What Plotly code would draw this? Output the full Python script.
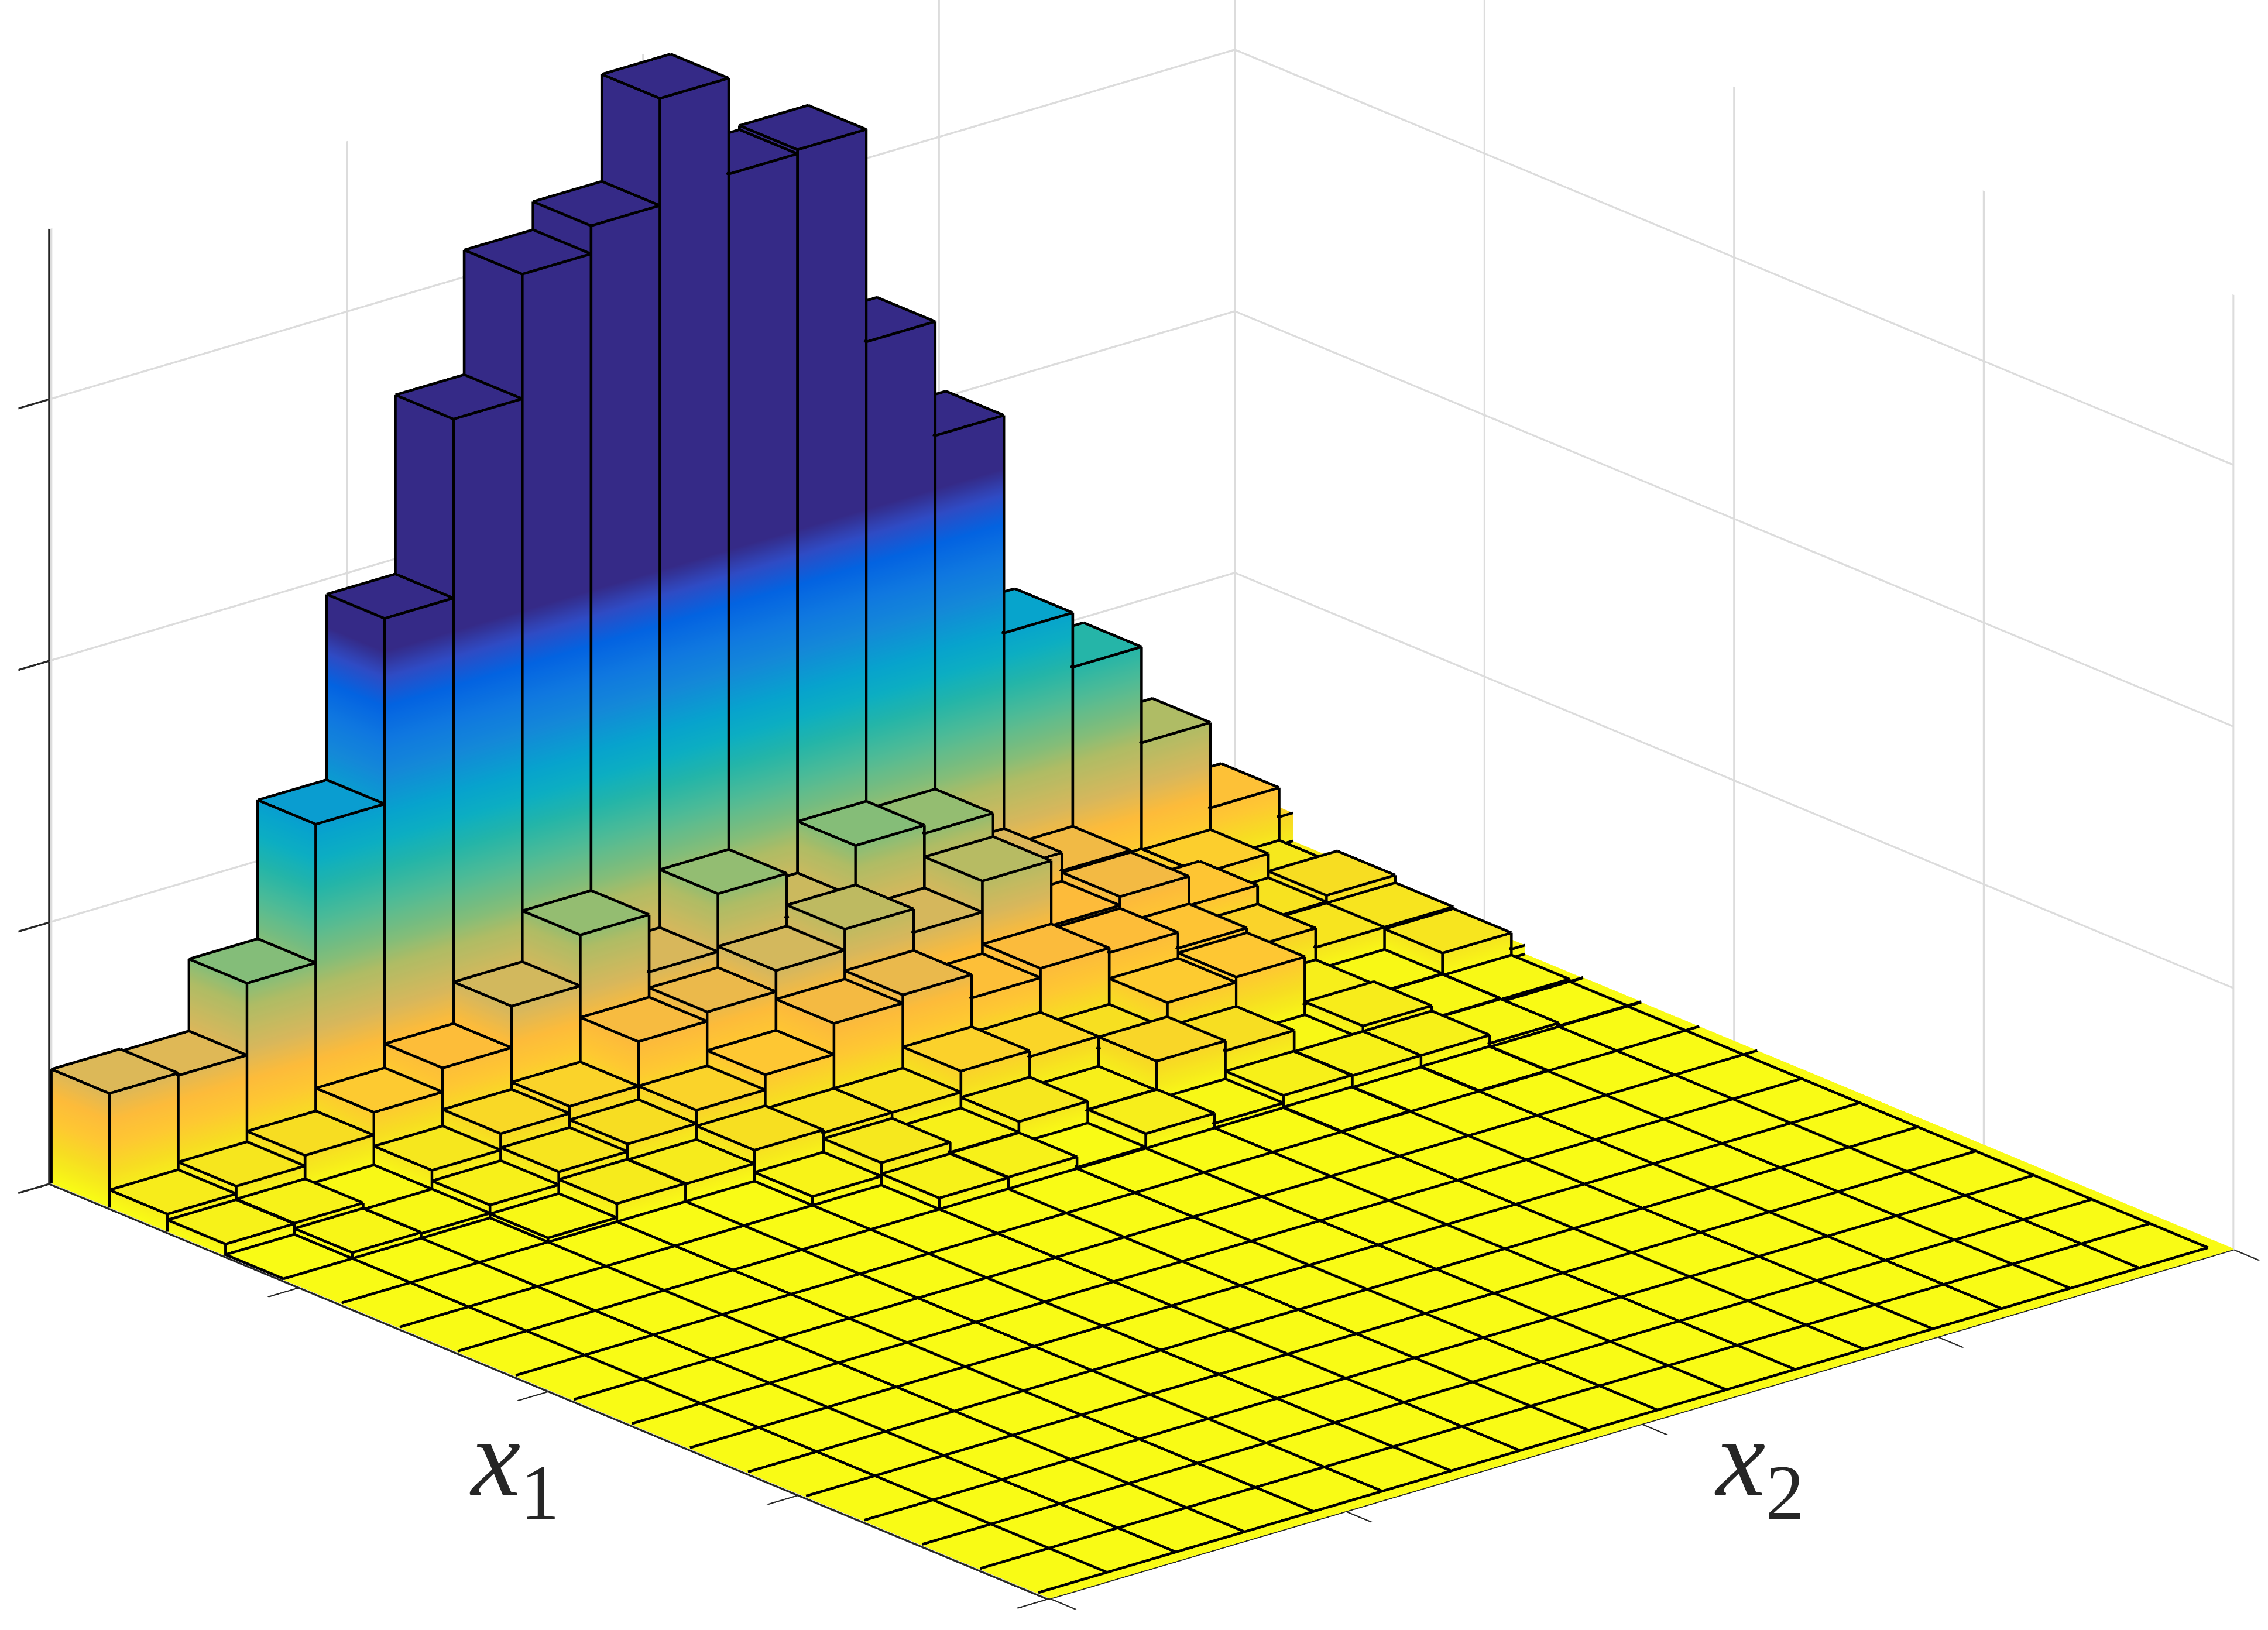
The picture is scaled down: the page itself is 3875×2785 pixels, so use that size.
import math
import plotly.graph_objects as go

# Bin heights (one list per x1 row, 18 x2 bins, last bins are clipped by the axes)
row_00 = [195,191,314,551,868,1174,1387,1435,1618,1454,1461,1098,903,531,438,274,128,78]
row_01 = [30,43,61,100,141,212,299,201,300,225,313,299,197,166,93,91,38,30]
row_02 = [20,21,10,42,70,82,158,174,210,246,206,259,148,163,113,50,61,30]
row_03 = [2,12,10,24,46,59,82,108,161,175,135,151,143,116,81,48,48,20]
row_04 = [0,1,2,9,33,32,55,50,50,86,76,55,99,108,27,10,45,17]
row_05 = [0,0,0,0,0,2,17,40,23,41,25,75,58,9,31,9,7,2]
row_06 = [0,0,0,0,0,1,1,21,22,4,27,10,23,22,22,8,3,3]
row_07 = [0,0,0,1,0,1,1,1,0,0,2,2,3,2,3,2,1,2]
row_08 = [0,0,0,0,0,0,0,0,0,0,0,0,1,0,0,0,2,2]
row_09 = [0,0,0,0,0,0,0,0,0,0,0,0,2,0,0,0,0,0]
row_10 = [0,0,0,0,0,0,0,0,0,0,0,0,0,0,0,1,0,0]
row_zero = [0]*18
heights = [row_00,row_01,row_02,row_03,row_04,row_05,row_06,row_07,row_08,row_09,row_10]+[row_zero]*7

x_edges = list(range(18))+[17.2]
y_edges = list(range(18))+[17.2]
x_ticks = [0,4.3,8.6,12.9,17.2]
y_ticks = [0,4.3,8.6,12.9,17.2]
z_ticks = [0,447,894,1341]
z_top = 1632
floor = 2

stop_h = [0,30,60,100,143,195,274,314,380,438,490,531,600,660,720,770,810,1618]
stop_c = ['#f9fb15','#f6ea1c','#f7dd22','#fec832','#fdbb3a','#d9b75b','#aebc65','#85bd78','#4fbb96','#24b5a8',
          '#0caec2','#07a3cd','#1488d8','#0f77e0','#0363e1','#2f4bc4','#352a87','#352a87']
colorscale = [[h/stop_h[-1],c] for h,c in zip(stop_h,stop_c)]

A = math.radians(40.1); E = math.radians(20.5)
ux,uy,uz = math.cos(A)*math.cos(E),-math.sin(A)*math.cos(E),math.sin(E)
# edges are nudged a few pixels toward the camera so the faces do not hide them
bias = 8.0
dx,dy,dz = bias*ux/154,bias*uy/154,bias*uz/1.0667

vx,vy,vz,fi,fj,fk = [],[],[],[],[],[]
lx,ly,lz = [],[],[]
def quad(a,b,c,d):
    fi.extend([a,a]);fj.extend([b,c]);fk.extend([c,d])
def seg(p,q):
    lx.extend([p[0]+dx,q[0]+dx,None]);ly.extend([p[1]+dy,q[1]+dy,None]);lz.extend([p[2]+dz,q[2]+dz,None])

n = 18
for i in range(n):
    for j in range(n):
        raw = heights[i][j]
        h = max(raw,floor)
        x0,x1,y0,y1 = x_edges[i],x_edges[i+1],y_edges[j],y_edges[j+1]
        s = len(vx)
        for z in (0,h):
            for (x,y) in ((x0,y0),(x1,y0),(x1,y1),(x0,y1)):
                vx.append(x);vy.append(y);vz.append(z)
        quad(s+4,s+5,s+6,s+7)
        for k in range(4):
            m=(k+1)%4
            quad(s+k,s+m,s+4+m,s+4+k)
        strip = (i==17 or j==17)
        if strip and raw<floor:
            if i==17 and j<17:
                seg((x0,y0,h),(x0,y1,h))
            if j==17 and i<17:
                seg((x0,y0,h),(x1,y0,h))
            continue
        corners = [(x0,y0),(x1,y0),(x1,y1),(x0,y1)]
        for k in range(4):
            a,b = corners[k],corners[(k+1)%4]
            clip = (a[0]==17.2 and b[0]==17.2) or (a[1]==17.2 and b[1]==17.2)
            on_axis = raw<floor and a[1]==0 and b[1]==0
            if not clip and not on_axis:
                seg((a[0],a[1],h),(b[0],b[1],h))
            if a[0]!=17.2 and a[1]!=17.2 and raw>=floor:
                seg((a[0],a[1],0),(a[0],a[1],h))

mesh = go.Mesh3d(x=vx,y=vy,z=vz,i=fi,j=fj,k=fk,intensity=vz,colorscale=colorscale,cmin=0,cmax=stop_h[-1],
                 showscale=False,flatshading=False,hoverinfo='skip',
                 lighting=dict(ambient=1,diffuse=0,specular=0,roughness=1,fresnel=0))
edges = go.Scatter3d(x=lx,y=ly,z=lz,mode='lines',line=dict(color='#000000',width=8),hoverinfo='skip',showlegend=False)

def axis(rng,ticks):
    return dict(range=rng,tickvals=ticks,showticklabels=False,title=dict(text=''),showgrid=True,gridcolor='#dcdcdc',gridwidth=6,
                showline=True,linecolor='#262626',linewidth=6,ticks='outside',ticklen=60,tickcolor='#262626',tickwidth=6,
                zeroline=False,showbackground=False,showspikes=False,autorange=False)

fig = go.Figure([mesh,edges])
R = 1.6
S = 1.902
cx = -0.0057; cy = -0.0068; cz = -0.0991
fig.update_layout(width=3875,height=2785,margin=dict(l=0,r=0,t=0,b=0),paper_bgcolor='white',showlegend=False,
    scene=dict(domain=dict(x=[0,1],y=[0,1]),
        xaxis=axis([0,17.2],x_ticks),yaxis=axis([dy-0.001,17.2],y_ticks),zaxis=axis([0,z_top],z_ticks),
        aspectmode='manual',aspectratio=dict(x=S,y=S,z=0.6577*S),
        camera=dict(projection=dict(type='orthographic'),up=dict(x=0,y=0,z=1),center=dict(x=cx,y=cy,z=cz),
            eye=dict(x=cx+R*ux,y=cy+R*uy,z=cz+R*uz))),
    annotations=[
        dict(text='<i>x</i><sub>1</sub>',x=0.2065,y=0.057,xref='paper',yref='paper',showarrow=False,font=dict(family='Liberation Serif',size=190,color='#262626')),
        dict(text='<i>x</i><sub>2</sub>',x=0.796,y=0.057,xref='paper',yref='paper',showarrow=False,font=dict(family='Liberation Serif',size=190,color='#262626')),
    ])
fig.write_html("out.html",post_script="document.body.style.margin='0';",config={'displayModeBar':False})
